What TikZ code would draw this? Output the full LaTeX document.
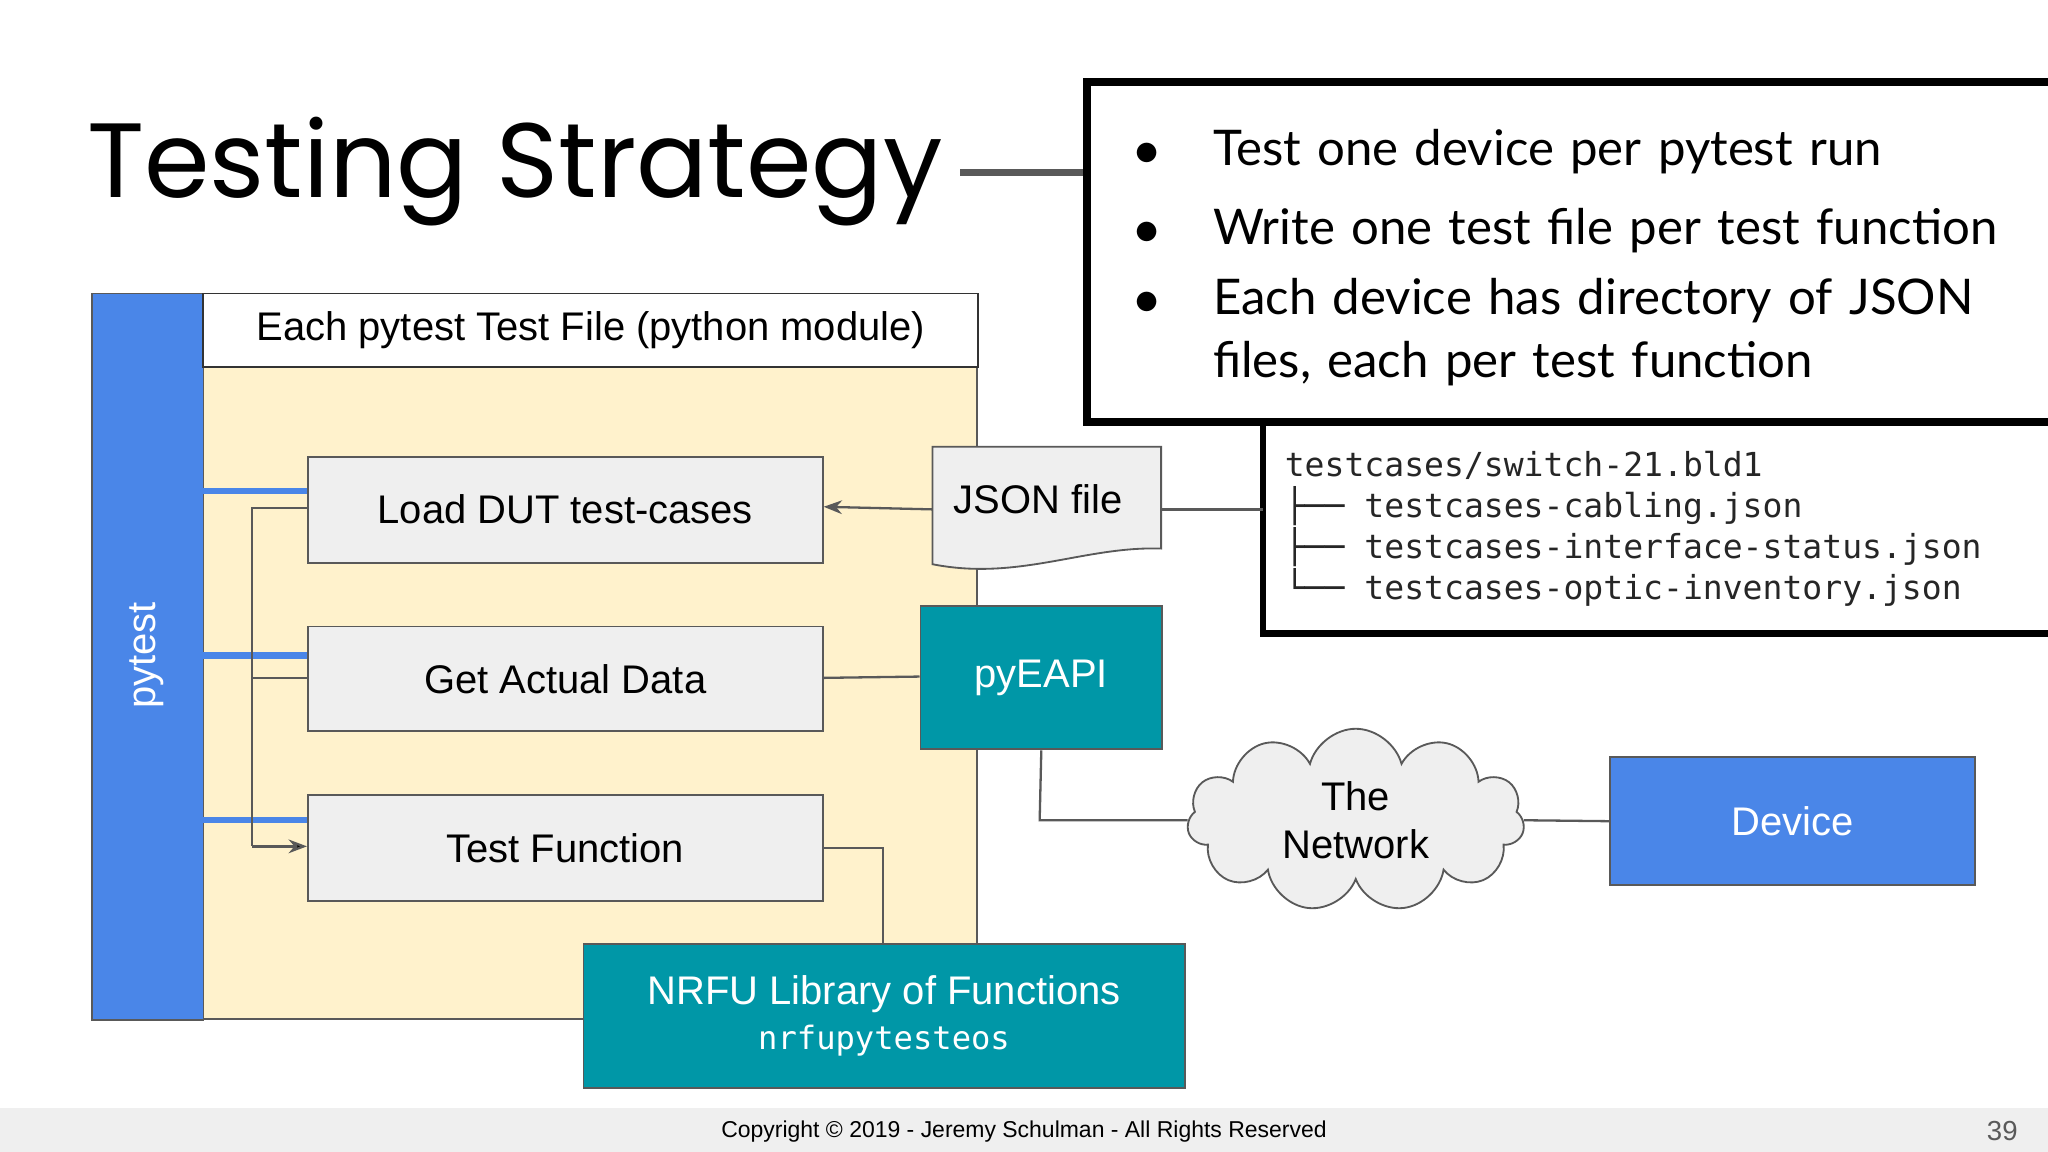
\documentclass[tikz,border=0pt]{standalone}
\usepackage{fontspec}
\setmainfont{Liberation Sans}
\newfontfamily\titlef{Poppins}
\newfontfamily\bulf{Lato}
\newfontfamily\monof{DejaVu Sans Mono}
\usetikzlibrary{shapes.symbols,arrows.meta}
\definecolor{gblue}{HTML}{4A86E8}
\definecolor{teal}{HTML}{0097A7}
\definecolor{ylw}{HTML}{FFF2CC}
\definecolor{lgray}{HTML}{EFEFEF}
\definecolor{dgray}{HTML}{595959}
\begin{document}
\begin{tikzpicture}[x=0.01cm,y=-0.01cm,
  box/.style={draw=dgray,line width=0.4pt,fill=lgray},
  conn/.style={draw=dgray,line width=0.5pt},
  txt/.style={font=\fontsize{8.7}{10.6}\selectfont},
  bl/.style={line width=1.4pt,gblue}]
\useasboundingbox (0,0) rectangle (1568,882);
\fill[white] (0,0) rectangle (1568,882);
\fill[lgray] (0,848) rectangle (1568,882);
\node[font=\fontsize{5}{6}\selectfont] (copy) at (784,866) {Copyright © 2019 - Jeremy Schulman - All Rights Reserved};
\node[font=\fontsize{6}{7}\selectfont,text=dgray] (pg) at (1533,866) {39};
\node[font=\titlef\fontsize{23}{26}\selectfont,anchor=west,inner sep=0] (title) at (66,131) {Testing Strategy};
\coordinate (tl1) at (735,132);
\draw[line width=1.5pt,dgray] (tl1) -- (832,132);
% bullet box
\draw[line width=1.7pt] (1580,63) -- (832,63) -- (832,323) -- (1580,323);
\node[anchor=north west,font=\bulf\fontsize{10.7}{13.6}\selectfont,inner sep=0,text width=7cm] (bul) at (868,98) {%
\makebox[6mm][l]{$\bullet$}Test one device per pytest run\\[1.3mm]
\makebox[6mm][l]{$\bullet$}Write one test file per test function\\[0.6mm]
\makebox[6mm][l]{$\bullet$}Each device has directory of JSON\\
\hspace*{6mm}files, each per test function};
% tree box
\draw[line width=1.5pt] (1580,323) -- (967,323) -- (967,485) -- (1580,485);
\node[anchor=north west,font=\monof\fontsize{7.2}{8.9}\selectfont,inner sep=0,align=left,text=black!85] (tree) at (983,345) {%
testcases/switch-21.bld1\\
├── testcases-cabling.json\\
├── testcases-interface-status.json\\
└── testcases-optic-inventory.json};
% main frame
\fill[ylw] (155,280) rectangle (748,780);
\draw[dgray,line width=0.4pt] (748,280) -- (748,780) -- (155,780);
\node[draw=dgray,line width=0.4pt,fill=gblue,minimum width=8.5mm,minimum height=55.6mm,anchor=north west] (py) at (70,224) {};
\node[rotate=90,text=white,txt] (pyt) at (112,502) {pytest};
\node[draw=black!80,line width=0.4pt,fill=white,minimum width=59.3mm,minimum height=5.6mm,anchor=north west,txt] (hdr) at (155,224) {Each pytest Test File (python module)};
\node[box,minimum width=39.4mm,minimum height=8.1mm,anchor=north west,txt] (load) at (235,349) {Load DUT test-cases};
\node[box,minimum width=39.4mm,minimum height=8mm,anchor=north west,txt] (get) at (235,479) {Get Actual Data};
\node[box,minimum width=39.4mm,minimum height=8.1mm,anchor=north west,txt] (tf) at (235,608) {Test Function};
\draw[bl] (155,376) -- (load.west|-0,376);
\draw[bl] (155,502) -- (get.west|-0,502);
\draw[bl] (155,628) -- (tf.west|-0,628);
\draw[conn] (load.west|-0,389) -- (193,389) -- (193,648) edge[-{Stealth[length=4pt]}] (tf.west|-0,648);
\draw[conn] (get.west|-0,519) -- (193,519);
% JSON doc
\path[box] (714,342) -- (889,342) -- (889,420) .. controls (830,418) and (780,445) .. (714,432) -- cycle;
\node[txt] (json) at (795,382) {JSON file};
\draw[conn,-{Stealth[length=4pt]}] (714,390) -- (load.east|-0,388);
\draw[conn] (889,390) -- (967,390);
\node[fill=teal,draw=dgray,line width=0.4pt,minimum width=18.5mm,minimum height=11mm,anchor=north west,text=white,txt] (eapi) at (704,463) {pyEAPI};
\draw[conn] (get.east|-0,519) -- (eapi.west|-0,518);
\node[cloud,cloud puffs=11,aspect=1.8,draw=dgray,line width=0.4pt,fill=lgray,minimum width=25.8mm,minimum height=14mm,align=center,txt,inner sep=0] (net) at (1038,628) {The\\Network};
\draw[conn] (eapi.south) -- (796,628) -- (net.west);
\node[fill=gblue,draw=dgray,line width=0.4pt,minimum width=27.9mm,minimum height=9.8mm,anchor=north west,text=white,txt] (dev) at (1232,579) {Device};
\draw[conn] (net.east) -- (dev.west);
\node[fill=teal,draw=dgray,line width=0.4pt,minimum width=46mm,minimum height=11mm,anchor=north west,align=center,text=white,txt] (nrfu) at (446,722) {NRFU Library of Functions\\[-0.3mm]{\monof\fontsize{7}{8}\selectfont nrfupytesteos}};
\draw[conn] (tf.east|-0,649) -- (676,649) -- (676,722);
\end{tikzpicture}
\end{document}
